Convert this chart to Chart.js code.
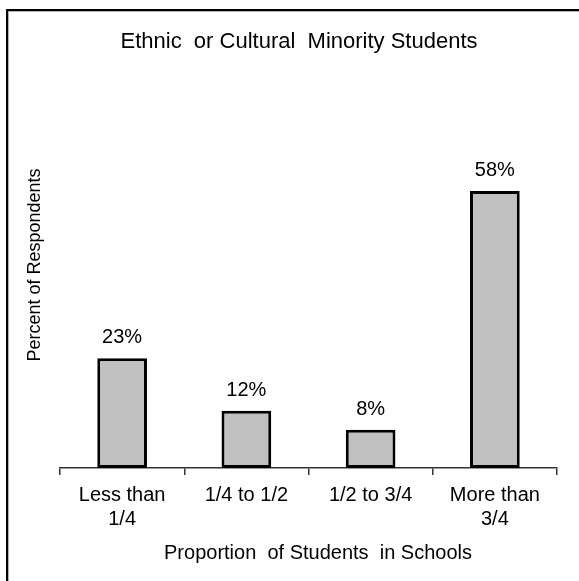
<!DOCTYPE html>
<html>
<head>
<meta charset="utf-8">
<title>Ethnic or Cultural Minority Students</title>
<script src="https://cdn.jsdelivr.net/npm/chart.js@4/dist/chart.umd.min.js"></script>
<style>
  html, body { margin: 0; padding: 0; background: #fff; }
  canvas { display: block; }
</style>
</head>
<body>
<canvas id="chart" width="579" height="581"></canvas>
<script>
// Share of respondents by proportion of minority students in their schools
const categories = [["Less than", "1/4"], "1/4 to 1/2", "1/2 to 3/4", ["More than", "3/4"]];
const percentValues = [23, 12, 8, 58];
const chartTitle = "Ethnic  or Cultural  Minority Students";
const xTitle = "Proportion  of Students  in Schools";
const yTitle = "Percent of Respondents";

const FONT = "'Liberation Sans', Arial, sans-serif";

// Frame along the top and left edges of the figure
const framePlugin = {
  id: 'frame',
  beforeDraw(chart) {
    const ctx = chart.ctx;
    ctx.save();
    ctx.fillStyle = '#fff';
    ctx.fillRect(0, 0, chart.width, chart.height);
    ctx.fillStyle = '#000';
    ctx.fillRect(6, 9, 2, chart.height - 9);
    ctx.fillRect(6, 9, chart.width - 6, 2);
    ctx.fillStyle = '#b0b0b0';
    ctx.fillRect(8, 11, 1, chart.height - 11);
    ctx.fillRect(8, 11, chart.width - 8, 1);
    ctx.restore();
  }
};

// Chart title and x-axis caption
const captionPlugin = {
  id: 'captions',
  afterDraw(chart) {
    const ctx = chart.ctx;
    ctx.save();
    ctx.fillStyle = '#000';
    ctx.textAlign = 'center';
    ctx.textBaseline = 'alphabetic';
    ctx.font = '22px ' + FONT;
    ctx.fillText(chartTitle, 299, 48);
    ctx.font = '20px ' + FONT;
    ctx.fillText(xTitle, 318, 559);
    ctx.restore();
  }
};

// Percentage label above each bar
const valueLabelPlugin = {
  id: 'valueLabels',
  afterDatasetsDraw(chart) {
    const ctx = chart.ctx;
    const meta = chart.getDatasetMeta(0);
    ctx.save();
    ctx.fillStyle = '#000';
    ctx.font = '20px ' + FONT;
    ctx.textAlign = 'center';
    ctx.textBaseline = 'alphabetic';
    meta.data.forEach((bar, i) => {
      ctx.fillText(percentValues[i] + '%', bar.x, bar.y - 15);
    });
    ctx.restore();
  }
};

new Chart(document.getElementById('chart'), {
  type: 'bar',
  data: {
    labels: categories,
    datasets: [{
      data: percentValues,
      backgroundColor: '#c0c0c0',
      borderColor: '#000',
      borderWidth: 3,
      borderSkipped: false,
      categoryPercentage: 1,
      barPercentage: 0.4
    }]
  },
  options: {
    responsive: false,
    animation: false,
    devicePixelRatio: 1,
    layout: { padding: { left: 0, top: 62, right: 22, bottom: 0 } },
    plugins: {
      legend: { display: false },
      title: { display: false },
      tooltip: { enabled: false }
    },
    scales: {
      x: {
        offset: true,
        grid: {
          display: true,
          offset: true,
          drawOnChartArea: false,
          drawTicks: true,
          tickLength: 7,
          color: '#333',
          lineWidth: 1.5
        },
        border: { display: true, color: '#333', width: 1.5 },
        ticks: {
          color: '#000',
          font: { family: FONT, size: 20, lineHeight: 1.2 },
          padding: 8,
          maxRotation: 0,
          autoSkip: false
        },
        afterFit(scale) { scale.height = 113; }
      },
      y: {
        min: 0,
        max: 85,
        grid: { display: false, drawTicks: false },
        border: { display: false },
        ticks: { display: false },
        title: {
          display: true,
          text: yTitle,
          color: '#000',
          font: { family: FONT, size: 18, lineHeight: 1.2 },
          padding: { top: 24, bottom: 0 }
        },
        afterFit(scale) { scale.width = 60; }
      }
    }
  },
  plugins: [framePlugin, valueLabelPlugin, captionPlugin]
});
</script>
</body>
</html>
